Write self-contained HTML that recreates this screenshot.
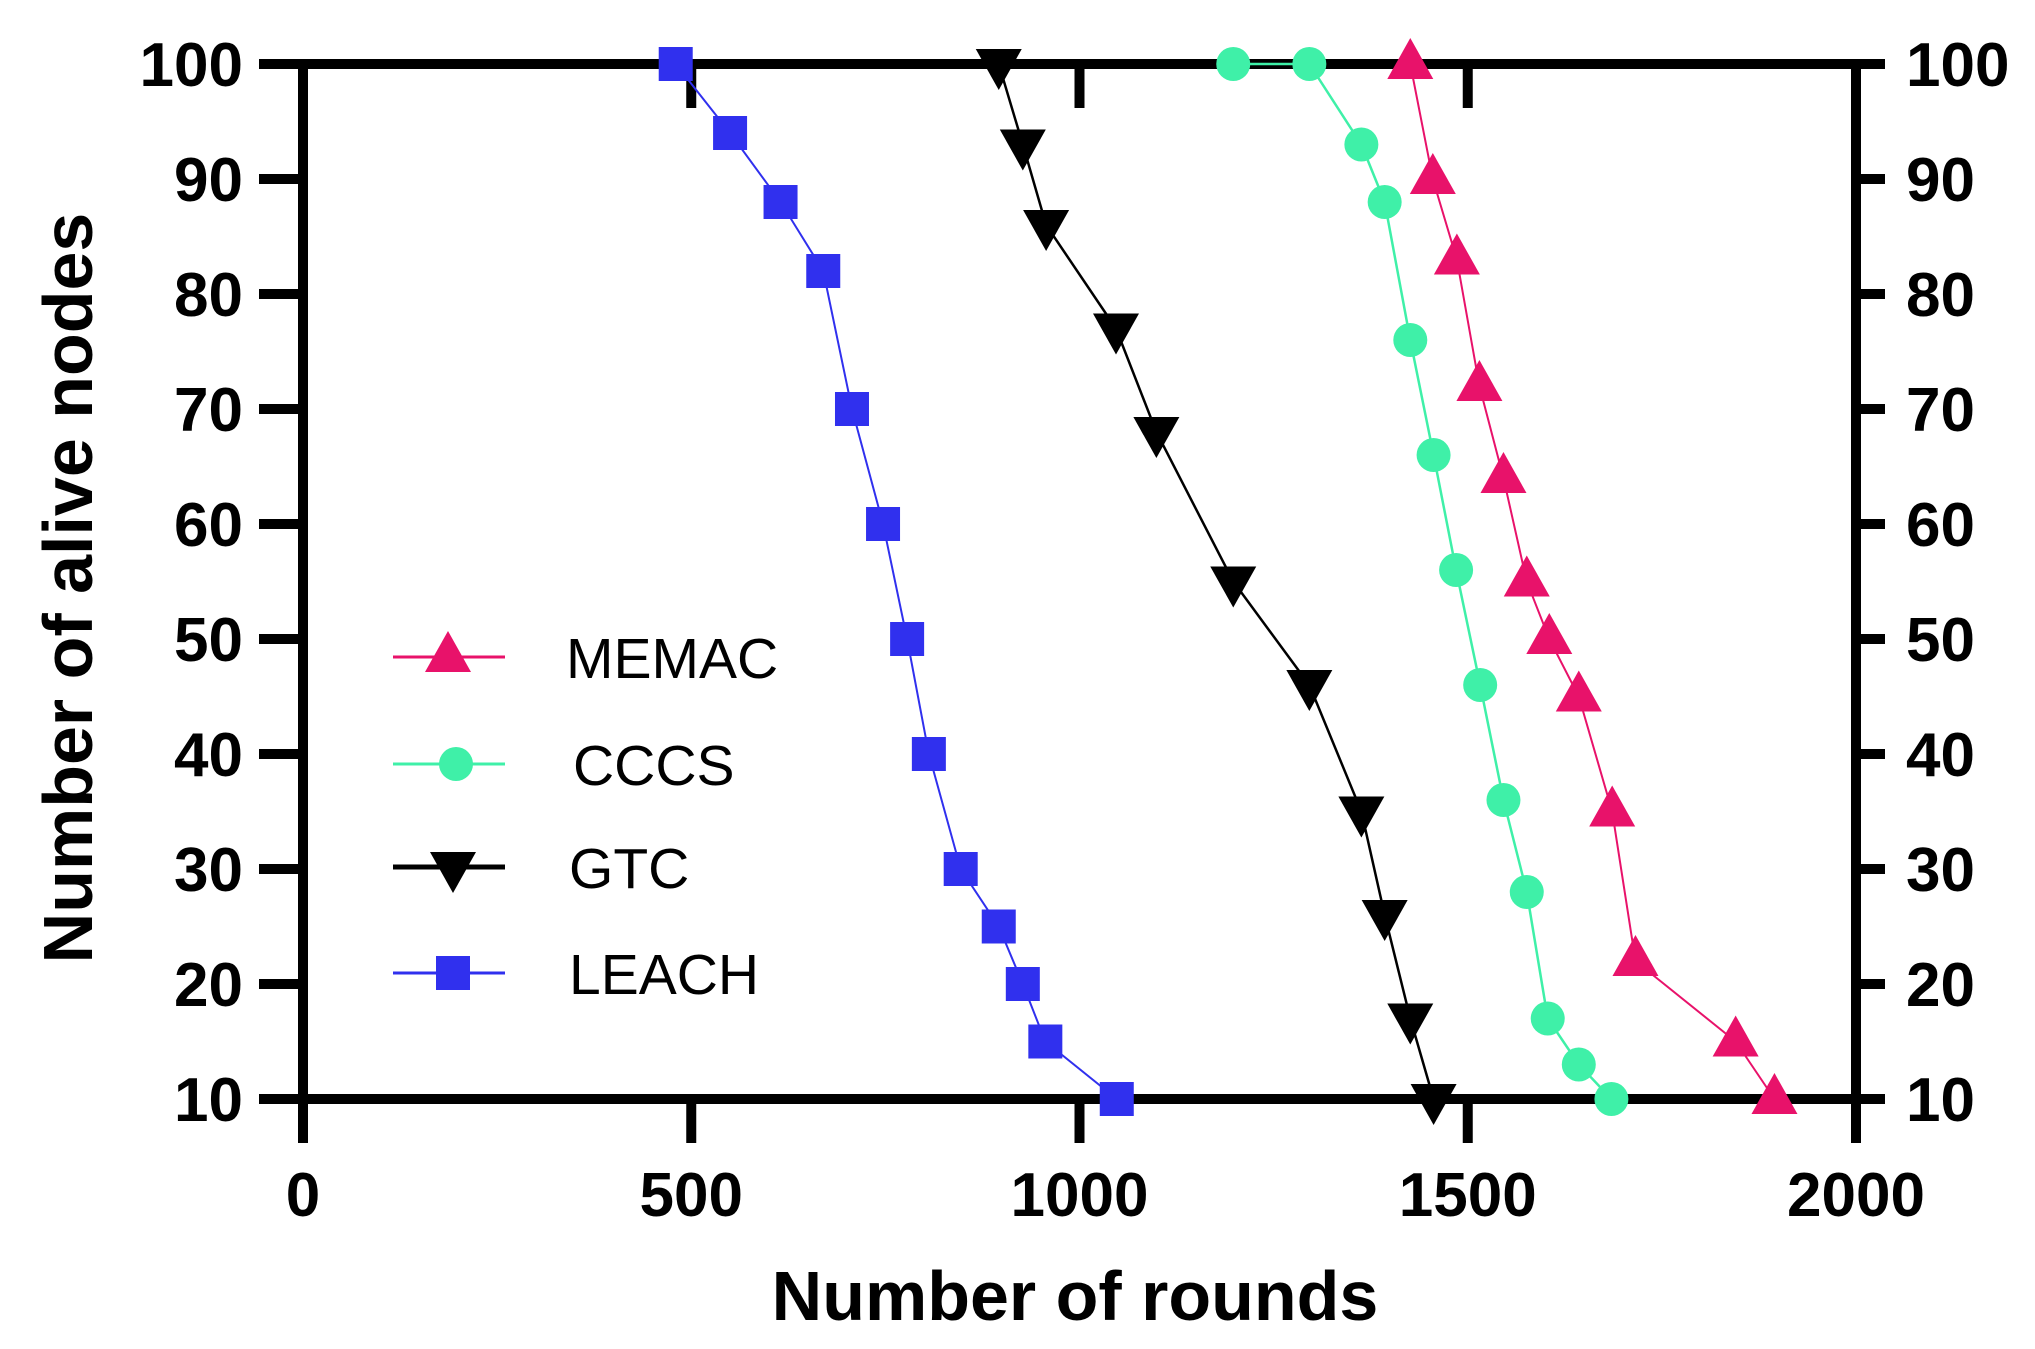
<!DOCTYPE html>
<html><head><meta charset="utf-8"><style>
html,body{margin:0;padding:0;background:#fff;}
svg{display:block;font-family:"Liberation Sans",Arial,sans-serif;}
</style></head><body>
<svg id="chart" width="2035" height="1349" viewBox="0 0 2035 1349" xmlns="http://www.w3.org/2000/svg"></svg>
<script>
const xTicks = [0, 500, 1000, 1500, 2000];
const yTicks = [10, 20, 30, 40, 50, 60, 70, 80, 90, 100];
const seriesNames = ["MEMAC", "CCCS", "GTC", "LEACH"];
const leachX = [480, 550, 615, 670, 707, 747, 778, 806, 847, 896, 927, 956, 1048];
const leachY = [100, 94, 88, 82, 70, 60, 50, 40, 30, 25, 20, 15, 10];
const gtcX = [896, 927, 957, 1047, 1099, 1198, 1296, 1363, 1393, 1426, 1456];
const gtcY = [100, 93, 86, 77, 68, 55, 46, 35, 26, 17, 10];
const ccccX = [1198, 1296, 1363, 1393, 1426, 1456, 1485, 1516, 1546, 1576, 1603, 1643, 1685];
const ccccY = [100, 100, 93, 88, 76, 66, 56, 46, 36, 28, 17, 13, 10];
const memacX = [1426, 1455, 1486, 1515, 1546, 1576, 1605, 1643, 1686, 1716, 1845, 1895];
const memacY = [100, 90, 83, 72, 64, 55, 50, 45, 35, 22, 15, 10];

const L = 303, R = 1856, T = 64, B = 1099;
const xs = v => L + (v - 0) / 2000 * (R - L);
const ys = v => B - (v - 10) / 90 * (B - T);
const NS = "http://www.w3.org/2000/svg";
const svg = document.getElementById('chart');
function mk(tag, attrs, parent) {
  const e = document.createElementNS(NS, tag);
  for (const k in attrs) e.setAttribute(k, attrs[k]);
  (parent || svg).appendChild(e);
  return e;
}
function marker(shape, cx, cy, color, g) {
  let e;
  if (shape === 'up') e = mk('polygon', {points: `${cx},${cy-26} ${cx-23},${cy+15} ${cx+23},${cy+15}`, fill: color}, g);
  else if (shape === 'down') e = mk('polygon', {points: `${cx-23},${cy-15} ${cx+23},${cy-15} ${cx},${cy+26}`, fill: color}, g);
  else if (shape === 'circle') e = mk('circle', {cx: cx, cy: cy, r: 17, fill: color}, g);
  else e = mk('rect', {x: cx-17, y: cy-17, width: 34, height: 34, fill: color}, g);
  return e;
}
const ax = mk('g', {});


const sw = 10;
mk('line', {x1: L, y1: T-5, x2: L, y2: 1143, stroke: '#000', 'stroke-width': sw}, ax);
mk('line', {x1: R, y1: T-5, x2: R, y2: B+5, stroke: '#000', 'stroke-width': sw}, ax);
mk('line', {x1: 259, y1: B, x2: 1885, y2: B, stroke: '#000', 'stroke-width': sw}, ax);
mk('line', {x1: 259, y1: T, x2: 1885, y2: T, stroke: '#000', 'stroke-width': sw}, ax);
xTicks.forEach(v => {
  const x = xs(v);
  mk('line', {x1: x, y1: T-5, x2: x, y2: T+44, stroke: '#000', 'stroke-width': sw}, ax);
  mk('line', {x1: x, y1: B, x2: x, y2: 1143, stroke: '#000', 'stroke-width': sw}, ax);
  const t = mk('text', {x: x, y: 1216, 'text-anchor': 'middle', 'font-size': 62, 'font-weight': 'bold'}, ax);
  t.textContent = v;
  
  
});
yTicks.forEach(v => {
  const y = ys(v);
  mk('line', {x1: 259, y1: y, x2: L, y2: y, stroke: '#000', 'stroke-width': sw}, ax);
  mk('line', {x1: R, y1: y, x2: 1885, y2: y, stroke: '#000', 'stroke-width': sw}, ax);
  const t = mk('text', {x: 243, y: y + 22, 'text-anchor': 'end', 'font-size': 62, 'font-weight': 'bold'}, ax);
  t.textContent = v;
  
  
  const t2 = mk('text', {x: 1906, y: y + 22, 'text-anchor': 'start', 'font-size': 62, 'font-weight': 'bold'}, ax);
  t2.textContent = v;
  
  
});
const xt = mk('text', {x: 1075, y: 1320, 'text-anchor': 'middle', 'font-size': 70, 'font-weight': 'bold'});
xt.textContent = 'Number of rounds';


const yt = mk('text', {x: 0, y: 0, 'text-anchor': 'middle', 'font-size': 70, 'font-weight': 'bold', transform: 'translate(92,588) rotate(-90)'});
yt.textContent = 'Number of alive nodes';



const series = [
  {name: seriesNames[3], xv: leachX, yv: leachY, color: '#3030ee', shape: 'square', lw: 2, key: 'leach'},
  {name: seriesNames[2], xv: gtcX, yv: gtcY, color: '#000000', shape: 'down', lw: 2.5, key: 'gtc'},
  {name: seriesNames[1], xv: ccccX, yv: ccccY, color: '#3ff0a8', shape: 'circle', lw: 2.5, key: 'cccs'},
  {name: seriesNames[0], xv: memacX, yv: memacY, color: '#e8126a', shape: 'up', lw: 2, key: 'memac'}
];
series.forEach(s => {
  const g = mk('g', {});
  
  
  const pts = s.xv.map((v, i) => xs(v) + ',' + ys(s.yv[i])).join(' ');
  const pl = mk('polyline', {points: pts, fill: 'none', stroke: s.color, 'stroke-width': s.lw}, g);
  
  
  s.xv.forEach((v, i) => {
    const m = marker(s.shape, xs(v), ys(s.yv[i]), s.color, g);
    
    
  });
});

const lg = mk('g', {});


const legendRows = [
  {name: seriesNames[0], color: '#e8126a', shape: 'up', y: 657, mx: 448, tx: 566},
  {name: seriesNames[1], color: '#3ff0a8', shape: 'circle', y: 764, mx: 456, tx: 573},
  {name: seriesNames[2], color: '#000000', shape: 'down', y: 867, mx: 453, tx: 569},
  {name: seriesNames[3], color: '#3030ee', shape: 'square', y: 973, mx: 453, tx: 569}
];
legendRows.forEach(r => {
  const g = mk('g', {}, lg);
  
  
  mk('line', {x1: 393, y1: r.y, x2: 505, y2: r.y, stroke: r.color, 'stroke-width': r.shape === 'down' ? 5 : 3}, g);
  marker(r.shape, r.mx, r.y, r.color, g);
  const t = mk('text', {x: r.tx, y: r.y + 21, 'font-size': 57}, g);
  t.textContent = r.name;
});
</script>
</body></html>
